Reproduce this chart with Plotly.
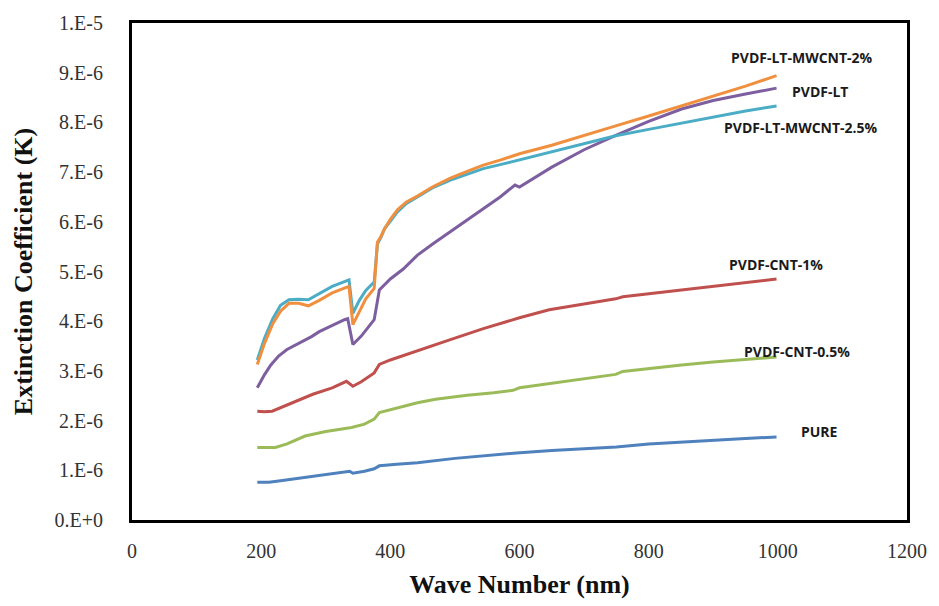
import plotly.graph_objects as go

# Wavelength grids (nm) and extinction coefficient values (units of 1e-6)
x_mw2 = [194, 205, 218, 230, 243, 258, 273, 290, 310, 332, 336, 342, 352, 362, 375,
         380, 386, 391, 400, 411, 425, 442, 465, 493, 520, 544, 570, 595, 600, 650,
         700, 749, 800, 851, 900, 950, 998]
k_mw2 = [3.13, 3.55, 3.95, 4.20, 4.36, 4.36, 4.31, 4.42, 4.57, 4.69, 4.70, 3.93, 4.20, 4.45, 4.66,
         5.59, 5.72, 5.86, 6.05, 6.24, 6.40, 6.52, 6.70, 6.88, 7.02, 7.14, 7.24, 7.34, 7.37, 7.54,
         7.73, 7.93, 8.13, 8.33, 8.53, 8.73, 8.94]

x_mw25 = x_mw2
k_mw25 = [3.22, 3.65, 4.05, 4.32, 4.43, 4.44, 4.43, 4.55, 4.70, 4.81, 4.83, 4.16, 4.42, 4.62, 4.79,
          5.55, 5.70, 5.86, 6.02, 6.20, 6.37, 6.50, 6.68, 6.84, 6.97, 7.07, 7.15, 7.23, 7.24, 7.40,
          7.57, 7.73, 7.86, 7.99, 8.11, 8.23, 8.33]

x_lt = [194, 205, 215, 227, 240, 253, 265, 278, 290, 310, 329, 334, 342, 355, 365, 375,
        383, 400, 420, 442, 465, 493, 520, 544, 570, 593, 600, 650, 700, 749, 800, 851,
        900, 950, 998]
k_lt = [2.66, 2.92, 3.12, 3.30, 3.43, 3.52, 3.60, 3.69, 3.79, 3.92, 4.03, 4.05, 3.53, 3.70, 3.86, 4.03,
        4.63, 4.85, 5.05, 5.33, 5.55, 5.80, 6.04, 6.27, 6.50, 6.74, 6.70, 7.10, 7.45, 7.74, 8.02, 8.27,
        8.44, 8.57, 8.69]

x_cnt1 = [194, 205, 217, 230, 253, 280, 310, 332, 342, 355, 375, 383, 400, 420, 442, 493,
          544, 595, 600, 646, 700, 749, 760, 800, 851, 900, 950, 998]
k_cnt1 = [2.19, 2.18, 2.19, 2.26, 2.39, 2.53, 2.66, 2.79, 2.69, 2.78, 2.96, 3.13, 3.22, 3.31, 3.40, 3.63,
          3.85, 4.05, 4.07, 4.23, 4.35, 4.45, 4.49, 4.55, 4.63, 4.71, 4.78, 4.85]

x_cnt05 = [194, 210, 222, 240, 268, 300, 340, 360, 375, 383, 400, 420, 442, 470, 519, 560,
           590, 600, 650, 700, 749, 760, 800, 851, 900, 950, 998]
k_cnt05 = [1.46, 1.46, 1.46, 1.53, 1.69, 1.78, 1.86, 1.93, 2.03, 2.16, 2.22, 2.29, 2.36, 2.43, 2.51, 2.56,
           2.61, 2.66, 2.75, 2.84, 2.93, 2.99, 3.05, 3.12, 3.18, 3.23, 3.28]

x_pure = [194, 212, 230, 268, 300, 337, 342, 360, 375, 383, 410, 442, 500, 550, 595, 650,
          700, 744, 750, 800, 851, 900, 950, 998]
k_pure = [0.76, 0.76, 0.79, 0.86, 0.91, 0.98, 0.94, 0.98, 1.03, 1.09, 1.12, 1.15, 1.24, 1.30, 1.35, 1.40,
          1.44, 1.48, 1.47, 1.53, 1.57, 1.61, 1.64, 1.67]

series = [
    ("PURE", x_pure, k_pure, "#4F81BD"),
    ("PVDF-CNT-1%", x_cnt1, k_cnt1, "#C0504D"),
    ("PVDF-CNT-0.5%", x_cnt05, k_cnt05, "#9BBB59"),
    ("PVDF-LT", x_lt, k_lt, "#7D5FA0"),
    ("PVDF-LT-MWCNT-2.5%", x_mw25, k_mw25, "#4BACC6"),
    ("PVDF-LT-MWCNT-2%", x_mw2, k_mw2, "#F0903E"),
]

# Series labels placed beside the curve ends (x in nm, y in 1e-6)
label_text = ["PVDF-LT-MWCNT-2%", "PVDF-LT", "PVDF-LT-MWCNT-2.5%", "PVDF-CNT-1%", "PVDF-CNT-0.5%", "PURE"]
label_x = [1037, 1065, 1036, 997, 1030, 1065]
label_y = [9.30, 8.62, 7.90, 5.14, 3.40, 1.78]

y_tick_vals = [0, 1, 2, 3, 4, 5, 6, 7, 8, 9, 10]
y_tick_text = ["0.E+0", "1.E-6", "2.E-6", "3.E-6", "4.E-6", "5.E-6", "6.E-6", "7.E-6", "8.E-6", "9.E-6", "1.E-5"]
x_tick_vals = [0, 200, 400, 600, 800, 1000, 1200]

fig = go.Figure()
for name, xs, ks, color in series:
    fig.add_trace(go.Scatter(
        x=xs, y=[v * 1e-6 for v in ks], mode="lines", name=name,
        line=dict(color=color, width=3), showlegend=False,
    ))

for t, lx, ly in zip(label_text, label_x, label_y):
    fig.add_annotation(
        x=lx, y=ly * 1e-6, text="<b>" + t + "</b>", showarrow=False,
        xanchor="center", yanchor="middle",
        font=dict(family="Open Sans", size=14, color="#1a1a1a"),
    )

fig.update_layout(
    width=939, height=606,
    margin=dict(l=132, r=25, t=23, b=83),
    paper_bgcolor="white", plot_bgcolor="white",
    font=dict(family="Liberation Serif", color="#222"),
)
fig.update_xaxes(
    range=[0, 1200], tickvals=x_tick_vals, ticks="", showgrid=False, zeroline=False,
    showline=True, linecolor="black", linewidth=3, mirror=True,
    tickfont=dict(family="Liberation Serif", size=20, color="#333"),
    ticklabelstandoff=11,
    title=dict(text="<b>Wave Number (nm)</b>", standoff=14,
               font=dict(family="Liberation Serif", size=26, color="#111")),
)
fig.update_yaxes(
    range=[0, 1e-5], tickvals=[v * 1e-6 for v in y_tick_vals], ticktext=y_tick_text,
    ticks="", showgrid=False, zeroline=False,
    showline=True, linecolor="black", linewidth=3, mirror=True,
    tickfont=dict(family="Liberation Serif", size=20, color="#333"),
    ticklabelstandoff=22,
    title=dict(text="<b>Extinction Coefficient (K)</b>", standoff=15,
               font=dict(family="Liberation Serif", size=26, color="#111")),
)

fig.write_html("out.html")
